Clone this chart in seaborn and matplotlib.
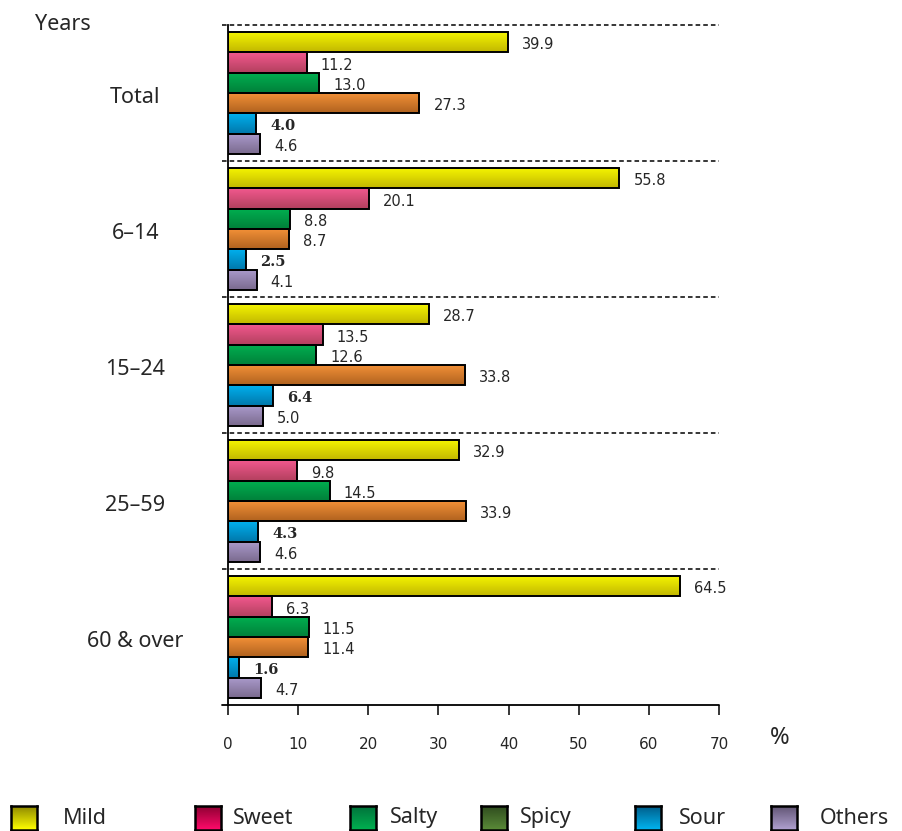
import numpy as np
import pandas as pd
import matplotlib
matplotlib.use("Agg")
import matplotlib.pyplot as plt
import seaborn as sns
from matplotlib.patches import Rectangle
from matplotlib.colors import LinearSegmentedColormap

# data
groups = ["Total", "6\u201314", "15\u201324", "25\u201359", "60 & over"]
tastes = ["Mild", "Sweet", "Salty", "Spicy", "Sour", "Others"]
mild = [39.9, 55.8, 28.7, 32.9, 64.5]
sweet = [11.2, 20.1, 13.5, 9.8, 6.3]
salty = [13.0, 8.8, 12.6, 14.5, 11.5]
spicy = [27.3, 8.7, 33.8, 33.9, 11.4]
sour = [4.0, 2.5, 6.4, 4.3, 1.6]
others = [4.6, 4.1, 5.0, 4.6, 4.7]

# bar colours (top, bottom) for the vertical gradient
bar_top = ["#c2b800", "#b2405e", "#00803a", "#b0621f", "#0077aa", "#7a6a8e"]
bar_bottom = ["#f6f600", "#f2588e", "#00b050", "#f59238", "#00b0ee", "#ab9bcc"]
legend_top = ["#8a8400", "#8a0030", "#00703a", "#2e4a1e", "#005a86", "#5e5270"]
legend_bottom = ["#ffff00", "#ff0a6a", "#00b050", "#5a8a38", "#00b4f0", "#b0a0d0"]

df = pd.DataFrame({"Mild": mild, "Sweet": sweet, "Salty": salty,
                   "Spicy": spicy, "Sour": sour, "Others": others}, index=groups)
long = df.reset_index().melt(id_vars="index", var_name="taste", value_name="pct")
long = long.rename(columns={"index": "group"})

sns.set_style("white")
plt.rcParams["font.family"] = ["DejaVu Sans"]

W, H = 902, 831
fig = plt.figure(figsize=(W / 100, H / 100), dpi=100)
ax = fig.add_axes([228 / W, 1 - 705 / H, (719 - 228) / W, (705 - 25) / H])

sns.barplot(data=long, y="group", x="pct", hue="taste", order=groups, hue_order=tastes,
            palette=bar_bottom, orient="h", width=0.9, gap=0, edgecolor="black",
            linewidth=1.4, legend=False, ax=ax)

# gradient fill for each bar
bars = list(ax.patches)
grad = np.linspace(0, 1, 64).reshape(-1, 1)
for i, taste in enumerate(tastes):
    cmap = LinearSegmentedColormap.from_list(taste, [bar_top[i], bar_bottom[i]])
    for j in range(len(groups)):
        p = bars[i * len(groups) + j]
        x0, y0 = p.get_x(), p.get_y()
        w, h = p.get_width(), p.get_height()
        im = ax.imshow(grad, extent=(x0, x0 + w, y0, y0 + h), cmap=cmap,
                       aspect="auto", origin="upper", zorder=p.get_zorder())
        im.set_clip_path(p)
        p.set_facecolor("none")
        p.set_zorder(p.get_zorder() + 0.1)

# value labels
for i, taste in enumerate(tastes):
    for j in range(len(groups)):
        p = bars[i * len(groups) + j]
        v = df[taste].iloc[j]
        yc = p.get_y() + p.get_height() / 2
        if taste == "Sour":
            ax.text(v + 2.0, yc + 0.02, f"{v:.1f}", va="center", ha="left",
                    fontsize=10.5, fontweight="bold", family="DejaVu Serif")
        else:
            ax.text(v + 2.0, yc + 0.02, f"{v:.1f}", va="center", ha="left", fontsize=10.5)

ax.set_xlim(0, 70)
ax.set_ylim(4.5, -0.5)

# dashed separators between groups
for yb in [-0.5, 0.5, 1.5, 2.5, 3.5]:
    ax.plot([-0.9, 70], [yb, yb], color="black", lw=1.1, ls=(0, (3, 2)), clip_on=False, zorder=5)
ax.plot([-0.9, 70], [4.5, 4.5], color="black", lw=1.3, clip_on=False, zorder=5)

sns.despine(ax=ax, top=True, right=True, bottom=True)
ax.spines["left"].set_linewidth(1.3)
ax.spines["left"].set_color("black")

ax.set_xticks(range(0, 71, 10))
ax.tick_params(axis="x", direction="out", length=7, width=1.3, pad=16, labelsize=11, bottom=True)
ax.set_yticks([])
ax.set_xlabel("")
ax.set_ylabel("")

# group labels
for j, g in enumerate(groups):
    ax.text(-13.2, j + 0.03, g, ha="center", va="center", fontsize=15.5, family="Noto Sans")

fig.text(35 / W, 1 - 25 / H, "Years", ha="left", va="center", fontsize=15.5, family="Noto Sans")
fig.text(780 / W, 1 - 738 / H, "%", ha="center", va="center", fontsize=17, family="Noto Sans")

# legend row along the bottom
box_x = [11, 195, 350, 481, 635, 771]
text_x = [63, 233, 390, 520, 679, 820]
bw, bh, by = 26, 24, 806
lgrad = np.linspace(0, 1, 32).reshape(-1, 1)
for k, taste in enumerate(tastes):
    cmap = LinearSegmentedColormap.from_list("l" + taste, [legend_top[k], legend_bottom[k]])
    lax = fig.add_axes([box_x[k] / W, 1 - (by + bh) / H, bw / W, bh / H])
    lax.imshow(lgrad, cmap=cmap, aspect="auto")
    lax.set_xticks([])
    lax.set_yticks([])
    for s in lax.spines.values():
        s.set_linewidth(1.8)
        s.set_color("black")
    fig.text(text_x[k] / W, 1 - 818 / H, taste, ha="left", va="center",
             fontsize=15.5, family="Noto Sans")

fig.savefig("out.png", dpi=100)
